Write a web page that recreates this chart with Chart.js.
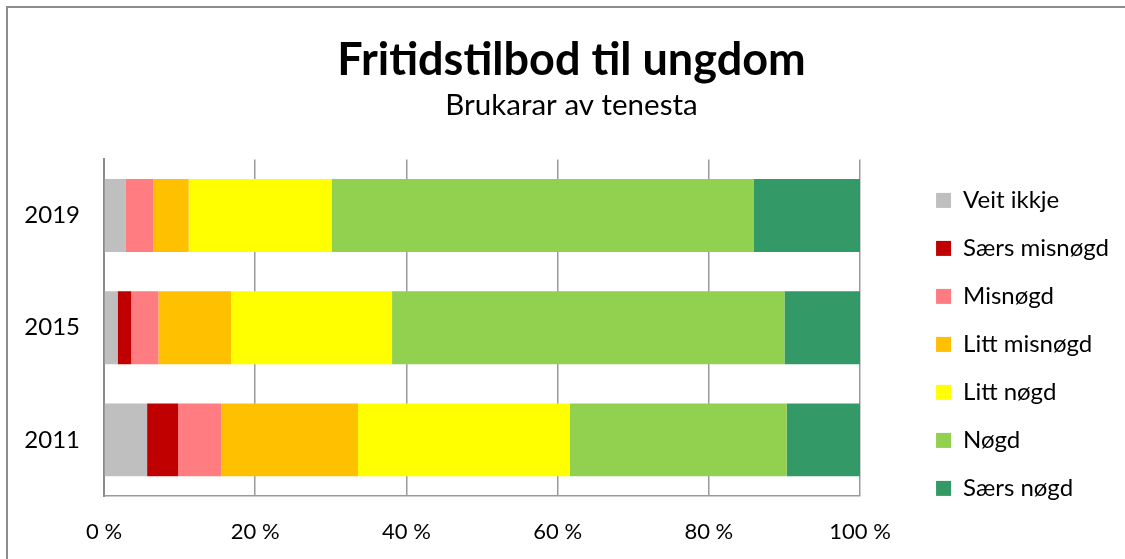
<!DOCTYPE html>
<html>
<head>
<meta charset="utf-8">
<script src="https://cdn.jsdelivr.net/npm/chart.js@4"></script>
<style>
  html, body { margin: 0; padding: 0; background: #fff; overflow: hidden; }
  #wrap { position: relative; width: 1125px; height: 559px; }
  #frame { position: absolute; left: 6px; top: 6px; width: 1140px; height: 580px; border: 2px solid #8c8c8c; box-sizing: border-box; }
  canvas { position: absolute; left: 0; top: 0; }
</style>
</head>
<body>
<div id="wrap">
  <div id="frame"></div>
  <canvas id="myChart" width="1125" height="559"></canvas>
</div>
<script>
// survey years, top to bottom
const years = ['2019', '2015', '2011'];

const seriesNames = ['Veit ikkje', 'Særs misnøgd', 'Misnøgd', 'Litt misnøgd', 'Litt nøgd', 'Nøgd', 'Særs nøgd'];
const seriesColors = ['#BFBFBF', '#C00000', '#FF7C80', '#FFC000', '#FFFF00', '#92D050', '#339966'];

// share in % per year (2019, 2015, 2011)
const veitIkkje    = [2.9, 1.8, 5.7];
const saersMisnogd = [0.0, 1.8, 4.1];
const misnogd      = [3.6, 3.6, 5.7];
const littMisnogd  = [4.7, 9.6, 18.1];
const littNogd     = [18.9, 21.3, 28.0];
const nogd         = [55.8, 51.9, 28.7];
const saersNogd    = [14.1, 10.0, 9.7];

const xTicks = [0, 20, 40, 60, 80, 100];

const seriesValues = [veitIkkje, saersMisnogd, misnogd, littMisnogd, littNogd, nogd, saersNogd];

Chart.defaults.font.family = 'Lato';
Chart.defaults.color = '#000';

ctx = document.getElementById('myChart').getContext('2d');
myChart = new Chart(ctx, {
    type: 'bar',
    data: {
        labels: years,
        datasets: seriesNames.map((name, i) => {
            return {
                label: name,
                data: seriesValues[i],
                backgroundColor: seriesColors[i],
                borderWidth: 0,
                barPercentage: 0.65,
                categoryPercentage: 1.0
            }
        })
    },
    options: {
        indexAxis: 'y',
        responsive: false,
        animation: false,
        layout: {
            padding: {left: 24, right: 6, top: 0, bottom: 0}
        },
        plugins: {
            title: {
                display: true,
                text: 'Fritidstilbod til ungdom',
                font: {size: 45, weight: 'bold'},
                padding: {top: 33, bottom: 1}
            },
            subtitle: {
                display: true,
                text: 'Brukarar av tenesta',
                font: {size: 29.5},
                padding: {top: 0, bottom: 36}
            },
            legend: {
                position: 'right',
                align: 'start',
                maxWidth: 260,
                // empty title only pushes the entries down
                title: {
                    display: true,
                    text: ' ',
                    font: {size: 12},
                    padding: {top: 150, bottom: 0}
                },
                labels: {
                    boxWidth: 15,
                    boxHeight: 15,
                    padding: 24,
                    font: {size: 24}
                }
            },
            tooltip: {enabled: false}
        },
        scales: {
            x: {
                stacked: true,
                min: 0,
                max: 100,
                afterBuildTicks: (scale) => {
                    scale.ticks = xTicks.map(v => ({value: v}));
                },
                afterFit: (scale) => { scale.height = 63; },
                grid: {
                    color: '#9a9a9a',
                    lineWidth: 1.5,
                    drawTicks: false
                },
                border: {display: true, color: '#9a9a9a', width: 1.5},
                ticks: {
                    padding: 23,
                    font: {size: 22},
                    callback: (v) => v + ' %'
                }
            },
            y: {
                stacked: true,
                afterFit: (scale) => { scale.width = 80; },
                grid: {display: false, drawTicks: false},
                border: {display: true, color: '#8c8c8c', width: 2},
                ticks: {
                    padding: 24,
                    font: {size: 24}
                }
            },
            yr: {
                axis: 'y',
                type: 'linear',
                position: 'right',
                display: true,
                grid: {display: false, drawTicks: false},
                border: {display: false},
                ticks: {display: false},
                afterFit: (scale) => { scale.width = 52; }
            }
        }
    }
});
</script>
</body>
</html>
